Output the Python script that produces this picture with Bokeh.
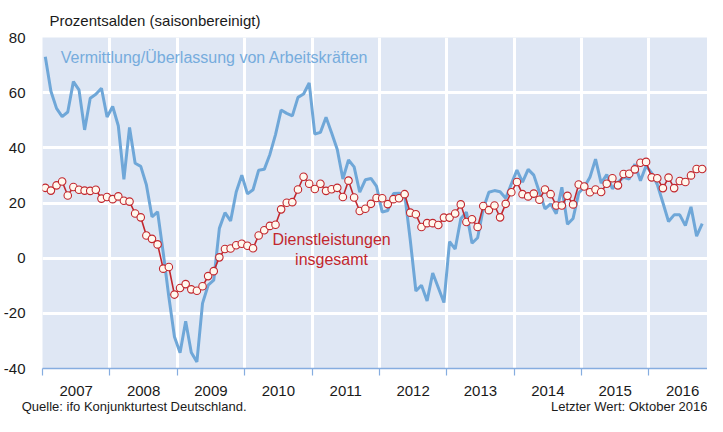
from bokeh.plotting import figure
from bokeh.models import (FixedTicker, CustomJSTickFormatter, Range1d, Title,
                          ColumnDataSource, LinearAxis)
from bokeh.embed import file_html
from bokeh.resources import INLINE
from bokeh.core.properties import value

# ---------------- data ----------------
years = list(range(2007, 2017))
year_labels = [str(y) for y in years]
y_ticks = [-40, -20, 0, 20, 40, 60, 80]

# Vermittlung/Überlassung von Arbeitskräften (monthly, Jan 2007 - Oct 2016)
blue_vals = [
    73.0, 60.5, 54.3, 51.3, 53.0, 64.0, 61.0, 46.5, 58.0, 59.4, 61.6, 51.2,   # 2007
    55.0, 48.0, 28.6, 47.4, 34.4, 33.3, 26.6, 15.0, 16.8, 2.0, -14.0, -28.5,  # 2008
    -34.3, -22.9, -34.2, -37.6, -16.4, -9.8, -8.0, 10.8, 16.5, 13.5, 24.0, 30.1,  # 2009
    23.3, 24.8, 31.9, 32.2, 37.6, 44.8, 53.7, 52.5, 51.6, 58.3, 59.5, 63.5,   # 2010
    45.0, 45.6, 51.1, 45.4, 39.4, 28.7, 35.6, 33.1, 23.9, 28.4, 28.9, 26.0,   # 2011
    16.7, 17.3, 23.4, 23.5, 23.3, 6.6, -11.9, -9.8, -15.5, -5.4, -10.7, -16.1,  # 2012
    6.0, 3.3, 14.3, 16.7, 5.4, 7.4, 17.9, 23.9, 24.5, 24.1, 21.7, 26.9,      # 2013
    31.9, 27.6, 32.2, 30.1, 23.9, 17.9, 19.7, 16.1, 25.7, 12.3, 14.4, 23.6,   # 2014
    25.8, 29.3, 35.9, 27.2, 30.3, 25.2, 27.6, 29.3, 28.7, 34.1, 28.1, 33.5,   # 2015
    30.8, 26.7, 20.1, 13.3, 15.7, 15.7, 11.8, 18.6, 8.0, 12.5,               # 2016
]

# Dienstleistungen insgesamt
red_vals = [
    25.5, 24.5, 26.4, 27.8, 22.7, 25.8, 24.8, 24.5, 24.4, 24.8, 21.6, 22.2,   # 2007
    21.4, 22.4, 20.8, 20.5, 16.2, 14.8, 8.2, 7.0, 5.0, -3.8, -3.2, -13.2,     # 2008
    -10.8, -9.4, -11.3, -11.8, -10.2, -6.5, -4.7, 0.3, 3.3, 3.5, 4.7, 5.2,    # 2009
    4.5, 3.6, 8.2, 10.1, 11.7, 12.1, 17.7, 20.1, 20.3, 24.9, 29.5, 27.0,      # 2010
    25.1, 27.0, 24.4, 25.0, 25.5, 22.2, 28.1, 22.0, 17.1, 17.9, 19.7, 21.8,   # 2011
    21.7, 19.6, 21.4, 21.7, 23.2, 16.5, 15.9, 11.3, 12.7, 12.7, 12.0, 14.7,   # 2012
    14.7, 16.2, 19.5, 13.1, 14.1, 11.3, 18.9, 17.4, 19.1, 14.8, 19.7, 23.9,   # 2013
    27.6, 23.2, 22.4, 23.4, 21.2, 24.9, 23.2, 19.1, 19.1, 22.6, 19.5, 26.7,   # 2014
    26.0, 23.9, 24.9, 24.0, 27.0, 29.0, 26.4, 30.5, 30.6, 32.2, 34.6, 34.9,   # 2015
    29.3, 29.0, 25.4, 29.2, 25.4, 28.0, 27.6, 30.0, 32.3, 32.3,               # 2016
]

blue_name = "Vermittlung/Überlassung von Arbeitskräften"
red_name = ["Dienstleistungen", "insgesamt"]
title_text = "Prozentsalden (saisonbereinigt)"
source_text = "Quelle: ifo Konjunkturtest Deutschland."
last_text = "Letzter Wert: Oktober 2016"

# month positions (mid-month) on a continuous year axis
x_months = [years[0] + (i + 0.5) / 12 for i in range(len(red_vals))]

FONT = "Liberation Sans"
BLUE = "#6fa7d8"
RED = "#c2272e"
TXT = "#1a1a1a"
AXIS_BLUE = "#86ade0"

p = figure(width=707, height=416,
           x_range=Range1d(2007, 2016.87), y_range=Range1d(-40, 80),
           output_backend="svg", toolbar_location=None,
           min_border_left=36, min_border_right=0,
           min_border_top=0, min_border_bottom=0)

p.background_fill_color = "#dfe7f4"
p.border_fill_color = "white"
p.outline_line_color = None

# grids
p.xgrid.ticker = FixedTicker(ticks=years[1:])
p.ygrid.ticker = FixedTicker(ticks=y_ticks[1:])
for g in (p.xgrid, p.ygrid):
    g.grid_line_color = "white"
    g.grid_line_width = 3

# y axis
yax = p.yaxis[0]
yax.ticker = FixedTicker(ticks=y_ticks)
yax.formatter = CustomJSTickFormatter(code="return tick.toFixed(0);")
yax.axis_line_color = None
yax.major_tick_line_color = None
yax.minor_tick_line_color = None
yax.major_label_standoff = 11
yax.major_label_text_font = FONT
yax.major_label_text_font_size = "15px"
yax.major_label_text_color = TXT

# x axis: labels at mid-year, ticks at year boundaries
xax = p.xaxis[0]
xax.ticker = FixedTicker(ticks=[y + 0.5 for y in years], minor_ticks=years + [years[-1] + 1])
xax.formatter = CustomJSTickFormatter(code="return String(Math.floor(tick));")
xax.axis_line_color = AXIS_BLUE
xax.axis_line_width = 1.5
xax.major_tick_line_color = None
xax.major_tick_out = 0
xax.major_tick_in = 0
xax.minor_tick_line_color = AXIS_BLUE
xax.minor_tick_line_width = 1.2
xax.minor_tick_out = 7
xax.minor_tick_in = 0
xax.major_label_standoff = 10
xax.major_label_text_font = FONT
xax.major_label_text_font_size = "15px"
xax.major_label_text_color = TXT

# footer row (source left, last value right) as a label-only axis
foot = LinearAxis(
    ticker=FixedTicker(ticks=[2008.36, 2015.78]),
    formatter=CustomJSTickFormatter(args=dict(q=source_text, l=last_text),
                                    code="return tick < 2012 ? q : l;"),
    axis_line_color=None, major_tick_line_color=None, minor_tick_line_color=None,
    major_tick_out=0, major_tick_in=0, minor_tick_out=0, minor_tick_in=0,
    major_label_standoff=0,
    major_label_text_font=FONT, major_label_text_font_size="13px",
    major_label_text_color=TXT)
p.add_layout(foot, "below")

# series
src = ColumnDataSource(data=dict(x=x_months, blue=blue_vals, red=red_vals))
p.line("x", "blue", source=src, line_color=BLUE, line_width=3)
p.line("x", "red", source=src, line_color=RED, line_width=1.6)
p.scatter("x", "red", source=src, size=7.5, marker="circle",
          fill_color="#fff8ee", line_color=RED, line_width=1.1)

# in-plot labels
p.text(x=[2007.27], y=[72.6], text=[blue_name], text_font=value(FONT),
       text_font_size="16px", text_color="#76acdd",
       text_align="left", text_baseline="middle")
p.text(x=[2011.29, 2011.29], y=[6.7, -0.5], text=red_name, text_font=value(FONT),
       text_font_size="16px", text_color=RED,
       text_align="center", text_baseline="middle")

# heading
p.add_layout(Title(text=title_text, align="left", offset=7, standoff=18,
                   text_font=FONT, text_font_size="15px", text_font_style="normal",
                   text_color=TXT), "above")

open("out.html", "w").write(file_html(p, INLINE))
